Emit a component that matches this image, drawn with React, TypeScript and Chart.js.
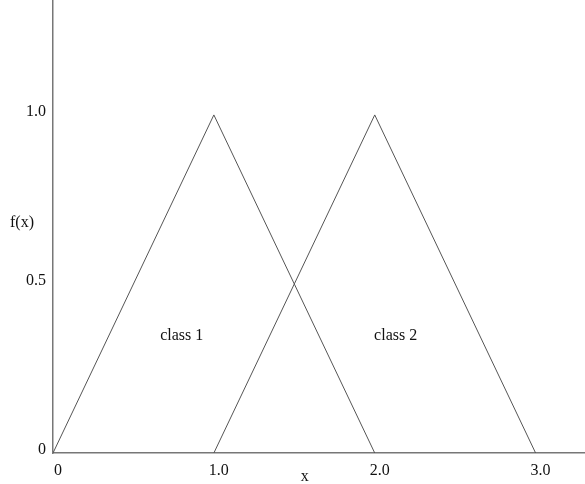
import React, { useEffect, useRef } from "react";
import { Chart, registerables } from "chart.js";

Chart.register(...registerables);

const class1X = [0, 1, 2];
const class1Y = [0, 1, 0];
const class2X = [1, 2, 3];
const class2Y = [0, 1, 0];

const xTickValues = [0, 1, 2, 3];
const xTickLabels = ["0", "1.0", "2.0", "3.0"];
const yTickValues = [0, 0.5, 1];
const yTickLabels = ["0", "0.5", "1.0"];

const classLabels = ["class 1", "class 2"];
const classLabelX = [0.8, 2.13];
const classLabelY = [0.346, 0.346];

const xTitle = "x";
const yTitle = "f(x)";

const FONT = "'Liberation Serif', 'Times New Roman', serif";

export default function App() {
  const ref = useRef<HTMLCanvasElement | null>(null);

  useEffect(() => {
    if (!ref.current) return;

    const textPlugin = {
      id: "textPlugin",
      afterDraw(chart: any) {
        const ctx = chart.ctx;
        const xs = chart.scales.x;
        const ys = chart.scales.y;
        const area = chart.chartArea;
        ctx.save();
        ctx.fillStyle = "#111";
        ctx.font = `16px ${FONT}`;
        ctx.textAlign = "center";
        ctx.textBaseline = "middle";
        classLabels.forEach((t, i) => {
          ctx.fillText(t, xs.getPixelForValue(classLabelX[i]), ys.getPixelForValue(classLabelY[i]));
        });
        ctx.fillText(yTitle, area.left - 31, ys.getPixelForValue(0.683) + 1);
        ctx.fillText(xTitle, xs.getPixelForValue(1.565), area.bottom + 24);
        ctx.restore();
      },
    };

    const chart = new Chart(ref.current, {
      type: "line",
      data: {
        datasets: [
          {
            label: classLabels[0],
            data: class1X.map((x, i) => ({ x, y: class1Y[i] })),
            borderColor: "#555",
            borderWidth: 1,
            pointRadius: 0,
            tension: 0,
          },
          {
            label: classLabels[1],
            data: class2X.map((x, i) => ({ x, y: class2Y[i] })),
            borderColor: "#555",
            borderWidth: 1,
            pointRadius: 0,
            tension: 0,
          },
        ],
      },
      options: {
        animation: false,
        responsive: true,
        maintainAspectRatio: false,
        layout: { padding: { top: 1, right: 0, left: 0, bottom: 0 } },
        plugins: {
          legend: { display: false },
          tooltip: { enabled: false },
        },
        scales: {
          x: {
            type: "linear",
            min: 0,
            max: 3.307,
            grid: { display: false, drawTicks: false },
            border: { display: true, color: "#777", width: 1.5 },
            afterBuildTicks: (scale: any) => {
              scale.ticks = xTickValues.map((v) => ({ value: v }));
            },
            afterFit: (scale: any) => {
              scale.height = 31;
              scale.paddingLeft = 0;
              scale.paddingRight = 0;
            },
            ticks: {
              color: "#111",
              font: { family: FONT, size: 16 },
              padding: 8,
              labelOffset: 5,
              maxRotation: 0,
              autoSkip: false,
              callback: (v: any) => {
                const i = xTickValues.indexOf(Number(v));
                return i >= 0 ? xTickLabels[i] : "";
              },
            },
          },
          y: {
            type: "linear",
            min: 0,
            max: 1.337,
            grid: { display: false, drawTicks: false },
            border: { display: true, color: "#777", width: 1.5 },
            afterBuildTicks: (scale: any) => {
              scale.ticks = yTickValues.map((v) => ({ value: v }));
            },
            afterFit: (scale: any) => {
              scale.width = 53;
              scale.paddingTop = 0;
              scale.paddingBottom = 0;
            },
            ticks: {
              color: "#111",
              font: { family: FONT, size: 16 },
              padding: 7,
              labelOffset: -3,
              autoSkip: false,
              callback: (v: any) => {
                const i = yTickValues.indexOf(Number(v));
                return i >= 0 ? yTickLabels[i] : "";
              },
            },
          },
        },
      },
      plugins: [textPlugin],
    });

    return () => chart.destroy();
  }, []);

  return (
    <div style={{ position: "absolute", left: 0, top: 0, width: 585, height: 484, background: "#fff" }}>
      <canvas ref={ref} />
    </div>
  );
}
